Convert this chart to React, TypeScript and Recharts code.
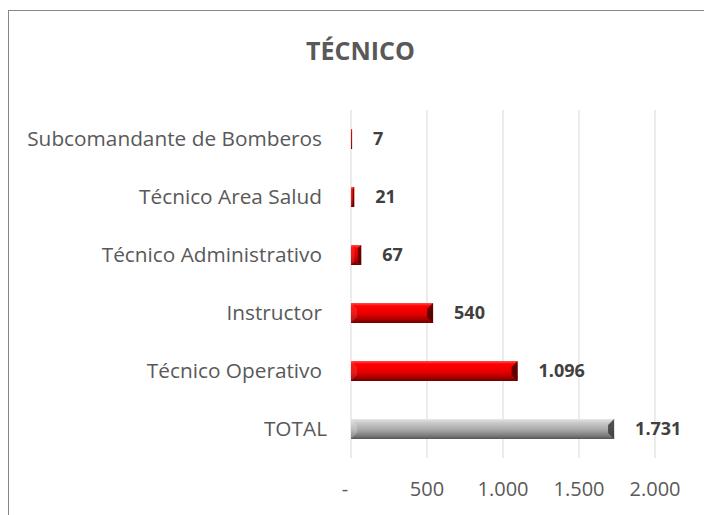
import { Bar, BarChart, CartesianGrid, Cell, LabelList, XAxis, YAxis } from 'recharts';

const categories = [
  'Subcomandante de Bomberos',
  'Técnico Area Salud',
  'Técnico Administrativo',
  'Instructor',
  'Técnico Operativo',
  'TOTAL'
];
const values = [7, 21, 67, 540, 1096, 1731];
const xTicks = [0, 500, 1000, 1500, 2000];

const data = categories.map((name, i) => ({ name, value: values[i] }));

const FONT = '"Open Sans", "DejaVu Sans", sans-serif';
const TEXT = '#595959';

const fmt = (v: number) => (v === 0 ? '-' : String(v).replace(/\B(?=(\d{3})+(?!\d))/g, '.'));

function BevelBar(props: any) {
  const { x, y, width, height, name } = props;
  if (!width || width <= 0) return null;
  const total = name === 'TOTAL';
  const b = Math.min(6, width / 3);
  return (
    <g>
      <rect x={x} y={y} width={width} height={height} fill={total ? 'url(#grayGrad)' : 'url(#redGrad)'} />
      <polygon
        points={`${x + width},${y} ${x + width},${y + height} ${x + width - b},${y + height - b} ${x + width - b},${y + b}`}
        fill={total ? '#3a3a3a' : '#4a0000'}
        fillOpacity={0.85}
      />
      <polygon
        points={`${x},${y} ${x},${y + height} ${x + b},${y + height - b} ${x + b},${y + b}`}
        fill={total ? '#ffffff' : '#ff8080'}
        fillOpacity={0.2}
      />
    </g>
  );
}

function XTick(props: any) {
  const { x, y, payload } = props;
  return (
    <text x={x + (payload.value === 0 ? -6 : 0)} y={y} dy="0.71em" textAnchor="middle" fill={TEXT} fontSize={20} fontFamily={FONT}>
      {fmt(payload.value)}
    </text>
  );
}

function YTick(props: any) {
  const { x, y, payload } = props;
  // Excel pushes the TOTAL label a little closer to the axis
  const shift = payload.value === 'TOTAL' ? 5 : 0;
  return (
    <text x={x + shift} y={y} dy="0.355em" textAnchor="end" fill={TEXT} fontSize={20.8} fontFamily={FONT}>
      {payload.value}
    </text>
  );
}

export default function App() {
  return (
    <div
      style={{
        position: 'fixed',
        left: 8,
        top: 10,
        width: 720,
        height: 520,
        borderTop: '1px solid #878787',
        borderLeft: '1px solid #878787',
        background: '#fff'
      }}
    >
      <div
        style={{
          position: 'absolute',
          left: 0,
          top: 22,
          width: 703,
          textAlign: 'center',
          fontFamily: FONT,
          fontWeight: 700,
          fontSize: 25,
          color: TEXT
        }}
      >
        TÉCNICO
      </div>
      <BarChart
        width={695}
        height={504}
        data={data}
        layout="vertical"
        margin={{ top: 99, right: 49, bottom: 22, left: 0 }}
        barSize={20}
      >
        <defs>
          <linearGradient id="redGrad" x1="0" x2="0" y1="0" y2="1">
            <stop offset="0%" stopColor="#ff5050" />
            <stop offset="15%" stopColor="#ff0000" />
            <stop offset="55%" stopColor="#e60000" />
            <stop offset="85%" stopColor="#a00000" />
            <stop offset="100%" stopColor="#6a0000" />
          </linearGradient>
          <linearGradient id="grayGrad" x1="0" x2="0" y1="0" y2="1">
            <stop offset="0%" stopColor="#e6e6e6" />
            <stop offset="20%" stopColor="#c8c8c8" />
            <stop offset="55%" stopColor="#a8a8a8" />
            <stop offset="85%" stopColor="#787878" />
            <stop offset="100%" stopColor="#555555" />
          </linearGradient>
        </defs>
        <CartesianGrid horizontal={false} stroke="#d9d9d9" />
        <XAxis
          type="number"
          domain={[0, 2000]}
          ticks={xTicks}
          axisLine={false}
          tickLine={false}
          tickMargin={18}
          height={35}
          tick={<XTick />}
        />
        <YAxis
          type="category"
          dataKey="name"
          width={342}
          axisLine={false}
          tickLine={false}
          tickMargin={23}
          tick={<YTick />}
        />
        <Bar dataKey="value" shape={<BevelBar />} isAnimationActive={false}>
          {data.map((d) => (
            <Cell key={d.name} fill={d.name === 'TOTAL' ? '#a0a0a0' : '#ff0000'} />
          ))}
          <LabelList
            dataKey="value"
            position="right"
            offset={21}
            formatter={(v: any) => fmt(Number(v))}
            fill="#404040"
            fontSize={18}
            fontWeight={700}
            fontFamily={FONT}
          />
        </Bar>
      </BarChart>
    </div>
  );
}
